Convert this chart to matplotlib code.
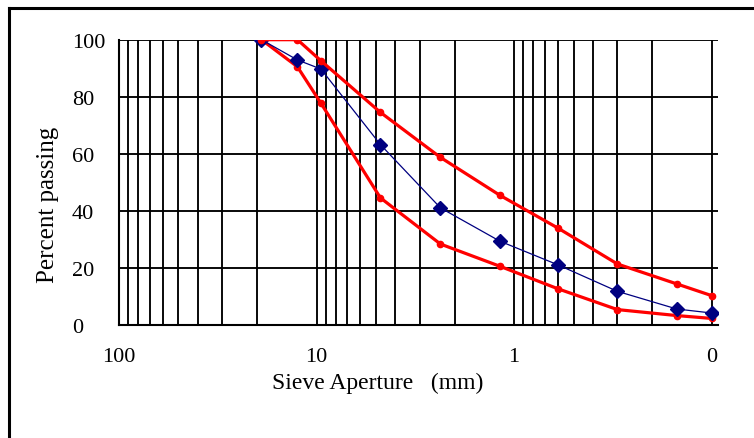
import matplotlib
matplotlib.use("Agg")
import matplotlib.pyplot as plt
from matplotlib.lines import Line2D
from matplotlib.ticker import FixedLocator, FixedFormatter

# sieve sizes (mm) and percent passing
sieve = [19, 12.5, 9.5, 4.75, 2.36, 1.18, 0.6, 0.3, 0.15, 0.1]
blend = [100, 92.9, 89.7, 63.2, 41.0, 29.3, 21.0, 11.7, 5.5, 4.1]
upper_limit = [100, 100, 92.6, 74.5, 58.7, 45.4, 33.9, 21.3, 14.3, 10.2]
lower_limit = [100, 90.5, 77.7, 44.5, 28.3, 20.5, 12.6, 5.3, 3.2, 2.2]

x_major = [100, 10, 1, 0.1]
x_major_labels = ["100", "10", "1", "0"]
y_ticks = [0, 20, 40, 60, 80, 100]

plt.rcParams['font.family'] = ['Liberation Serif', 'DejaVu Serif']

W, H = 754, 439
fig = plt.figure(figsize=(W / 100, H / 100), dpi=100)
fig.patch.set_facecolor("white")

ax_l, ax_r, ax_t, ax_b = 119, 718, 40.7, 325.7
ax = fig.add_axes([ax_l / W, 1 - ax_b / H, (ax_r - ax_l) / W, (ax_b - ax_t) / H])

ax.set_xscale("log")
ax.set_xlim(100, 0.0929)
ax.set_ylim(0, 100)

minors = []
for dec in [10, 1, 0.1]:
    for k in range(2, 10):
        minors.append(dec * k)
ax.xaxis.set_major_locator(FixedLocator(x_major))
ax.xaxis.set_major_formatter(FixedFormatter(x_major_labels))
ax.xaxis.set_minor_locator(FixedLocator(minors))
ax.xaxis.set_minor_formatter(FixedFormatter([""] * len(minors)))
ax.yaxis.set_major_locator(FixedLocator(y_ticks))

ax.grid(True, which="both", axis="x", color="black", linewidth=1.35)
ax.grid(True, which="major", axis="y", color="black", linewidth=1.35)
ax.set_axisbelow(True)

for s in ["top", "right"]:
    ax.spines[s].set_visible(False)
for s in ["left", "bottom"]:
    ax.spines[s].set_linewidth(1.5)

ax.tick_params(axis="both", which="both", length=0, labelsize=16)
ax.tick_params(axis="x", pad=16)
ax.tick_params(axis="y", pad=34)
for lbl in ax.get_yticklabels():
    lbl.set_horizontalalignment("left")

ax.plot(sieve, lower_limit, color="#FF0000", linewidth=2.3, marker="o",
        markersize=4.5, zorder=3)
ax.plot(sieve, blend, color="#000080", linewidth=0.9, marker="D",
        markersize=7, zorder=4)
ax.plot(sieve, upper_limit, color="#FF0000", linewidth=2.3, marker="o",
        markersize=4.5, zorder=5)

fig.text(378 / W, 1 - 383 / H, "Sieve Aperture   (mm)", fontsize=17,
         ha="center", va="center")
fig.text(48 / W, 1 - 205 / H, "Percent passing", fontsize=18, rotation=90,
         ha="center", va="center")

# outer frame (left and top edges)
fig.add_artist(Line2D([8.5 / W, 8.5 / W], [0, 1 - 9 / H], color="black",
                      linewidth=2.2, transform=fig.transFigure))
fig.add_artist(Line2D([8.5 / W, 1], [1 - 9 / H, 1 - 9 / H], color="black",
                      linewidth=2.2, transform=fig.transFigure))

fig.savefig("out.png", dpi=100)
